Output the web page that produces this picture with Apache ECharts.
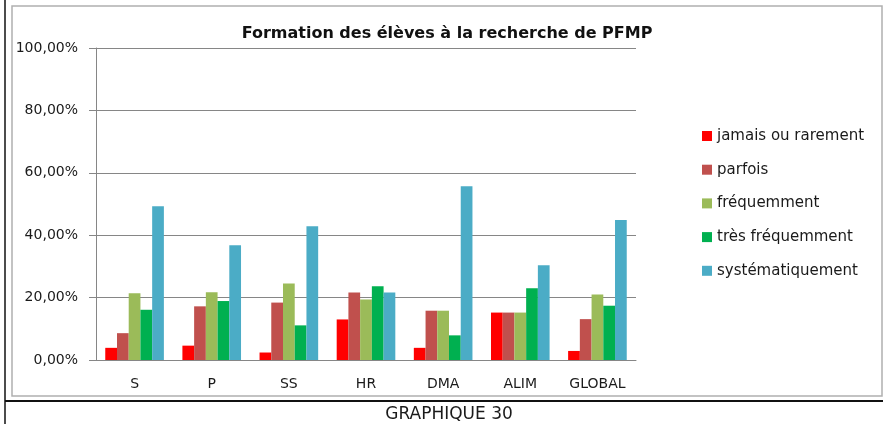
<!DOCTYPE html>
<html>
<head>
<meta charset="utf-8">
<script src="https://cdn.jsdelivr.net/npm/echarts@6/dist/echarts.min.js"></script>
<style>
  html, body { margin: 0; padding: 0; background: #fff; }
  #chart { width: 883px; height: 424px; }
</style>
</head>
<body>
<div id="chart"></div>
<script>
const categories = ['S', 'P', 'SS', 'HR', 'DMA', 'ALIM', 'GLOBAL'];
const seriesNames = ['jamais ou rarement', 'parfois', 'fréquemment', 'très fréquemment', 'systématiquement'];
const jamais = [3.9, 4.6, 2.4, 13.0, 3.9, 15.2, 2.9];
const parfois = [8.6, 17.2, 18.4, 21.6, 15.8, 15.2, 13.1];
const frequemment = [21.4, 21.7, 24.5, 19.4, 15.8, 15.2, 21.0];
const tresFrequemment = [16.1, 18.9, 11.1, 23.6, 7.9, 23.0, 17.4];
const systematiquement = [49.3, 36.8, 42.9, 21.6, 55.7, 30.4, 44.9];
const colors = ['#ff0000', '#c0504d', '#9bbb59', '#00b050', '#4bacc6'];

const font = '"DejaVu Sans", sans-serif';
const chart = echarts.init(document.getElementById('chart'));

const makeSeries = (name, data, color) => ({
  name,
  type: 'bar',
  data,
  barGap: '0%',
  barCategoryGap: '24%',
  animation: false,
  itemStyle: { color },
});

const option = {
  backgroundColor: '#fff',
  textStyle: { fontFamily: font },
  title: {
    text: 'Formation des élèves à la recherche de PFMP',
    left: 442,
    top: 21,
    textAlign: 'center',
    textStyle: { fontFamily: font, fontSize: 16, fontWeight: 'bold', color: '#111' },
  },
  legend: {
    orient: 'vertical',
    left: 697,
    top: 123.5,
    itemWidth: 10,
    itemHeight: 10,
    itemGap: 18.7,
    icon: 'rect',
    textStyle: { fontFamily: font, fontSize: 15, lineHeight: 15, color: '#1a1a1a' },
    data: seriesNames,
  },
  grid: { left: 96, right: 247, top: 48, bottom: 64 },
  xAxis: {
    type: 'category',
    data: categories,
    axisLine: { lineStyle: { color: '#868686' } },
    axisTick: { length: 6, lineStyle: { color: '#868686' } },
    axisLabel: { margin: 17, fontFamily: font, fontSize: 14, color: '#1a1a1a' },
  },
  yAxis: {
    type: 'value',
    min: 0,
    max: 100,
    interval: 20,
    axisLine: { show: true, lineStyle: { color: '#868686' } },
    axisTick: { show: true, length: 7, lineStyle: { color: '#868686' } },
    splitLine: { lineStyle: { color: '#868686' } },
    axisLabel: {
      margin: 18,
      fontFamily: font,
      fontSize: 14,
      color: '#1a1a1a',
      formatter: (v) => v.toFixed(2).replace('.', ',') + '%',
    },
  },
  graphic: [
    { type: 'rect', shape: { x: 12, y: 6, width: 870, height: 390 }, style: { fill: 'none', stroke: '#b0b0b0', lineWidth: 1.5 }, silent: true },
    { type: 'line', shape: { x1: 5, y1: 0, x2: 5, y2: 424 }, style: { stroke: '#111', lineWidth: 1.5 }, silent: true },
    { type: 'line', shape: { x1: 5, y1: 401, x2: 883, y2: 401 }, style: { stroke: '#111', lineWidth: 2 }, silent: true },
    {
      type: 'text',
      x: 449,
      y: 415,
      style: { text: 'GRAPHIQUE 30', align: 'center', verticalAlign: 'middle', fontFamily: font, fontSize: 17, fill: '#1a1a1a' },
      silent: true,
    },
  ],
  series: [
    makeSeries(seriesNames[0], jamais, colors[0]),
    makeSeries(seriesNames[1], parfois, colors[1]),
    makeSeries(seriesNames[2], frequemment, colors[2]),
    makeSeries(seriesNames[3], tresFrequemment, colors[3]),
    makeSeries(seriesNames[4], systematiquement, colors[4]),
  ],
};
chart.setOption(option);
</script>
</body>
</html>
